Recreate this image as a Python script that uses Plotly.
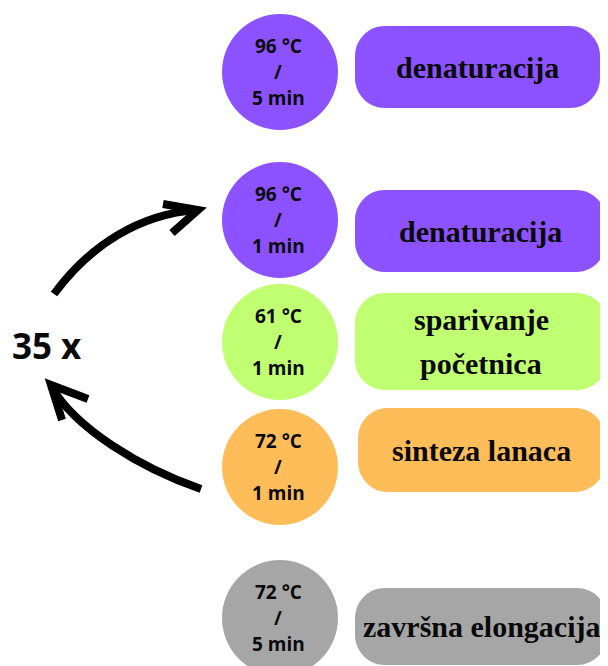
import plotly.graph_objects as go

# ---- data ----
temperatures = ["96 °C", "96 °C", "61 °C", "72 °C", "72 °C"]
durations = ["5 min", "1 min", "1 min", "1 min", "5 min"]
step_names = [["denaturacija"], ["denaturacija"], ["sparivanje", "početnica"],
              ["sinteza lanaca"], ["završna elongacija"]]
step_colors = ["#8C52FF", "#8C52FF", "#C1FF72", "#FFBD59", "#A6A6A6"]
cycles_label = "35 x"

# ---- layout geometry (pixel-like coordinates) ----
W, H = 608, 666
OFF = 8  # default page body margin
circle_cx = 280
circle_text_x = 278
circle_cy = [72, 220, 342, 467, 618]
circle_r = 58
line_gap = 26
pill_boxes = [(355, 600, 26, 108), (355, 606, 190, 272), (355, 607, 293, 390),
              (358, 605, 408, 492), (355, 607, 588, 665)]
pill_radius = 30
text_color = "#0a0a0a"

fig = go.Figure()
shapes = []
annotations = []

def rounded_path(x0, x1, y0, y1, r):
    k = 0.5523 * r
    return (f"M {x0+r},{y0} L {x1-r},{y0} C {x1-r+k},{y0} {x1},{y0+r-k} {x1},{y0+r} "
            f"L {x1},{y1-r} C {x1},{y1-r+k} {x1-r+k},{y1} {x1-r},{y1} "
            f"L {x0+r},{y1} C {x0+r-k},{y1} {x0},{y1-r+k} {x0},{y1-r} "
            f"L {x0},{y0+r} C {x0},{y0+r-k} {x0+r-k},{y0} {x0+r},{y0} Z")

for i in range(len(temperatures)):
    cy = circle_cy[i]
    shapes.append(dict(type="circle", xref="x", yref="y",
                       x0=circle_cx - circle_r, x1=circle_cx + circle_r,
                       y0=cy - circle_r, y1=cy + circle_r,
                       fillcolor=step_colors[i], line=dict(width=0), layer="below"))
    for j, txt in enumerate([temperatures[i], "/", durations[i]]):
        annotations.append(dict(x=circle_text_x, y=cy + (j - 1) * line_gap,
                                xref="x", yref="y", text=txt, showarrow=False,
                                font=dict(family="Open Sans", size=19, color=text_color,
                                          weight="bold"),
                                xanchor="center", yanchor="middle"))
    x0, x1, y0, y1 = pill_boxes[i]
    shapes.append(dict(type="path", xref="x", yref="y",
                       path=rounded_path(x0, x1, y0, y1, pill_radius),
                       fillcolor=step_colors[i], line=dict(width=0), layer="below"))
    lines = step_names[i]
    ymid = (y0 + y1) / 2
    n = len(lines)
    for j, txt in enumerate(lines):
        annotations.append(dict(x=(x0 + x1) / 2, y=ymid + (j - (n - 1) / 2) * 44,
                                xref="x", yref="y", text=txt, showarrow=False,
                                font=dict(family="Liberation Serif", size=30,
                                          color=text_color, weight="bold"),
                                xanchor="center", yanchor="middle"))

annotations.append(dict(x=47, y=345, xref="x", yref="y", text=cycles_label,
                        showarrow=False,
                        font=dict(family="Open Sans", size=35, color=text_color,
                                  weight="bold"),
                        xanchor="center", yanchor="middle"))

# arrows
arrow_style = dict(type="path", xref="x", yref="y",
                   line=dict(color="black", width=8), layer="above")
shapes.append(dict(arrow_style, path="M 54,294 C 90,245 140,214 197,210"))
shapes.append(dict(arrow_style, path="M 163,204 L 198,210 L 172,233"))
shapes.append(dict(arrow_style, path="M 201,489 C 140,468 75,428 51,386"))
shapes.append(dict(arrow_style, path="M 88,399 L 51,385 L 62,420"))

fig.update_layout(
    width=W - OFF, height=H - OFF,
    margin=dict(l=0, r=0, t=0, b=0),
    paper_bgcolor="white", plot_bgcolor="white",
    xaxis=dict(range=[OFF, W], visible=False, fixedrange=True),
    yaxis=dict(range=[H, OFF], visible=False, fixedrange=True),
    shapes=shapes, annotations=annotations, showlegend=False,
)
fig.write_html("out.html")
